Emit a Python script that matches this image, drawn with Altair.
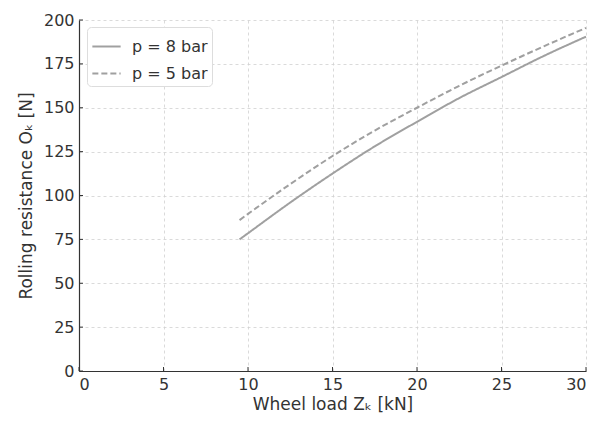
import altair as alt
import pandas as pd

x_vals = [9.5, 10, 12.5, 15, 17.5, 20, 22.5, 25, 27.5, 30]
solid_8bar = [75, 78.5, 96, 112.5, 128, 142, 155.5, 167.5, 179.5, 190.5]
dashed_5bar = [86, 89.5, 106.5, 122.5, 137, 150, 162.5, 174, 185, 195.5]
series_names = ["p = 8 bar", "p = 5 bar"]
x_ticks = [0, 5, 10, 15, 20, 25, 30]
y_ticks = [0, 25, 50, 75, 100, 125, 150, 175, 200]

rows = []
for x, a, b in zip(x_vals, solid_8bar, dashed_5bar):
    rows.append({"x": x, "y": a, "series": series_names[0]})
    rows.append({"x": x, "y": b, "series": series_names[1]})
df = pd.DataFrame(rows)

W, H = 507, 351
xscale = alt.Scale(domain=[0, 30], nice=False)
yscale = alt.Scale(domain=[0, 200], nice=False)

lines = alt.Chart(df).mark_line(strokeWidth=2, color="#a0a0a0", interpolate="monotone").encode(
    x=alt.X("x:Q", scale=xscale,
            axis=alt.Axis(title="Wheel load Zₖ [kN]", values=x_ticks, ticks=False)),
    y=alt.Y("y:Q", scale=yscale,
            axis=alt.Axis(title="Rolling resistance Oₖ [N]", values=y_ticks, ticks=False)),
    strokeDash=alt.StrokeDash("series:N",
        scale=alt.Scale(domain=series_names, range=[[1, 0], [6, 3]]),
        legend=alt.Legend(title=None, orient="none", legendX=8, legendY=7,
                          symbolType="stroke", symbolStrokeColor="#a0a0a0",
                          symbolStrokeWidth=2, symbolSize=800,
                          labelFontSize=16, labelColor="#333333", labelFont="DejaVu Sans",
                          fillColor="white", strokeColor="#dddddd", cornerRadius=4,
                          padding=4, rowPadding=3, labelOffset=10)),
    order="x:Q",
)

xt = alt.Chart(pd.DataFrame({"t": x_ticks})).mark_rule(color="#333333", strokeWidth=1).encode(
    x=alt.X("t:Q", scale=xscale), y=alt.value(H), y2=alt.value(H - 4))
yt = alt.Chart(pd.DataFrame({"t": y_ticks})).mark_rule(color="#333333", strokeWidth=1).encode(
    y=alt.Y("t:Q", scale=yscale), x=alt.value(0), x2=alt.value(4))

chart = alt.layer(lines, xt, yt).properties(
    width=W, height=H,
    padding={"left": 71, "top": 12, "right": 2, "bottom": 42},
    autosize=alt.AutoSizeParams(type="none"),
).configure_view(
    stroke=None
).configure_axis(
    labelFont="DejaVu Sans", titleFont="DejaVu Sans",
    labelFontSize=16, titleFontSize=17, labelColor="#333333", titleColor="#333333",
    titleFontWeight="normal",
    domainColor="#333333", domainWidth=1.2,
    gridColor="#d0d0d0", gridDash=[3, 3], gridWidth=0.8,
    labelPadding=5,
).configure_axisX(titlePadding=4).configure_axisY(titlePadding=8)

chart.save("out.html", embed_options={"renderer": "svg", "actions": False})
